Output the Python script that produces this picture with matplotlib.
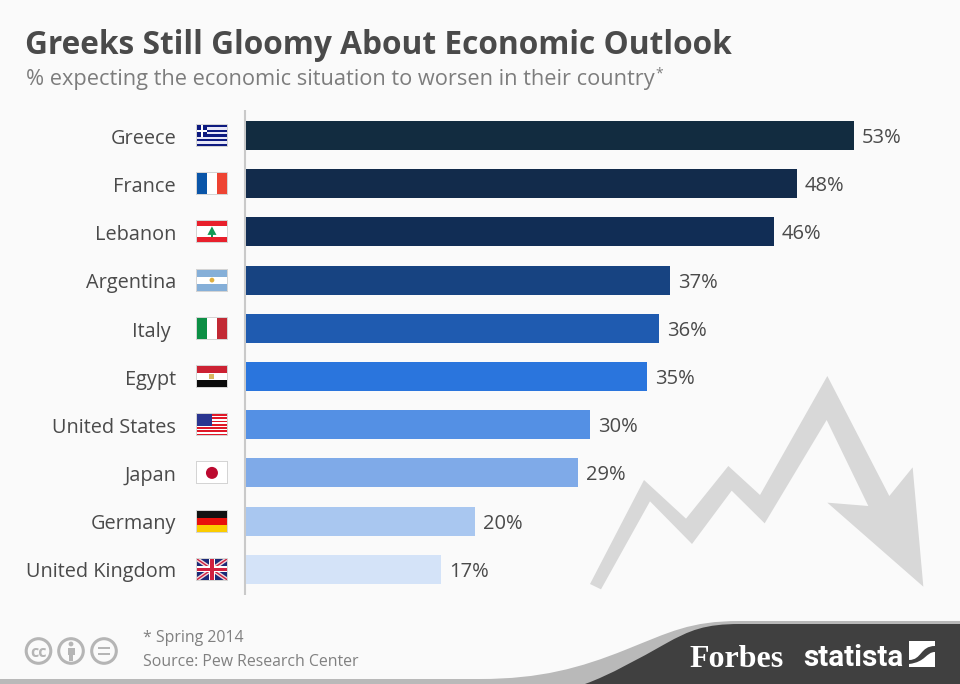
import matplotlib
matplotlib.use("Agg")
import matplotlib.pyplot as plt
from matplotlib.patches import Rectangle, Polygon, Circle, PathPatch
from matplotlib.path import Path

countries = ["Greece", "France", "Lebanon", "Argentina", "Italy", "Egypt",
             "United States", "Japan", "Germany", "United Kingdom"]
values = [53, 48, 46, 37, 36, 35, 30, 29, 20, 17]
bar_colors = ["#122c40", "#122b4b", "#112d55", "#174381", "#1f5bb0",
              "#2a75dd", "#5490e4", "#7faae8", "#a9c7f0", "#d4e3f8"]
title = "Greeks Still Gloomy About Economic Outlook"
subtitle = "% expecting the economic situation to worsen in their country"
footnote = "* Spring 2014"
source = "Source: Pew Research Center"

W, H = 960, 684
BG = "#fafafa"
FONT = "Open Sans"
fig = plt.figure(figsize=(W / 100, H / 100), dpi=100, facecolor=BG)

# overlay in pixel coordinates
ov = fig.add_axes([0, 0, 1, 1], zorder=1)
ov.set_xlim(0, W); ov.set_ylim(H, 0); ov.axis("off")

# bars
top_px, bot_px = 111.4, 593.4
ax = fig.add_axes([245.5 / W, 1 - bot_px / H, (W - 245.5) / W, (bot_px - top_px) / H], zorder=2)
ax.patch.set_alpha(0)
ax.set_xlim(0, (W - 245.5) / (608.5 / 53))
ax.set_ylim(9.5, -0.5)
ax.axis("off")
ypos = list(range(len(countries)))
ax.barh(ypos, values, height=0.6, color=bar_colors, linewidth=0)
for y, v in zip(ypos, values):
    ax.annotate(f"{v}%", (v, y), xytext=(8, 0), textcoords="offset pixels", va="center_baseline",
                ha="left", fontsize=14.5, color="#4a4a4a", family=FONT)

for i, c in enumerate(countries):
    cy = 136.2 + i * 48.2
    ov.text(176 if c != "Italy" else 171, cy, c, ha="right", va="center_baseline", fontsize=14.3,
            color="#4a4a4a", family=FONT)

ov.plot([245, 245], [110, 595], color="#c9c9c9", lw=1.5, solid_capstyle="butt")

# titles
ov.text(25, 41.5, title, fontsize=22.8, fontweight="bold", color="#4a4a4a", family=FONT,
        va="center_baseline", ha="left")
ov.text(26, 76.5, subtitle, fontsize=15.7, color="#7d7d7d", family=FONT, va="center_baseline", ha="left")
ov.text(655, 72, "*", fontsize=10, color="#7d7d7d", family=FONT, va="center_baseline", ha="left")
ov.text(143, 635.5, footnote, fontsize=11.45, color="#808080", family=FONT, va="center_baseline")
ov.text(143, 660.5, source, fontsize=11.45, color="#808080", family=FONT, va="center_baseline")

# background arrow
zx = [60, 222, 348, 475, 570, 772, 958, 1028, 1060, 772, 895, 770, 584, 485, 366, 240, 93]
zy = [672, 360, 476, 318, 405, 48, 408, 322, 680, 428, 438, 180, 490, 392, 552, 424, 688]
ov.add_patch(Polygon([(570 + a / 3, 360 + b / 3) for a, b in zip(zx, zy)], closed=True,
                     fc="#d8d8d8", ec="none", zorder=0.5))

# footer band
M, C, L, Z = Path.MOVETO, Path.CURVE4, Path.LINETO, Path.CLOSEPOLY
light = Path([(0, 679), (480, 679), (540, 679), (580, 668), (625, 650), (670, 632), (690, 621),
              (740, 621), (960, 621), (960, 684), (0, 684), (0, 684)],
             [M, L, C, C, C, C, C, C, L, L, L, Z])
ov.add_patch(PathPatch(light, fc="#b9b9b9", ec="none", zorder=1))
dark = Path([(585, 684), (610, 675), (640, 658), (665, 644), (690, 630), (705, 624), (740, 624),
             (960, 624), (960, 684), (585, 684)],
            [M, C, C, C, C, C, C, L, L, Z])
ov.add_patch(PathPatch(dark, fc="#404040", ec="none", zorder=1.1))
ov.text(689, 656, "Forbes", fontsize=23, fontweight="bold", family="Liberation Serif", color="white",
        va="center_baseline", ha="left", zorder=3)
ov.text(803, 655, "statista", fontsize=21.3, fontweight="bold", family="Roboto", color="white",
        va="center_baseline", ha="left", zorder=3)
ov.add_patch(Rectangle((909, 641), 26, 26, fc="white", ec="none", zorder=3))
ov.add_patch(PathPatch(Path([(909, 660), (922, 660), (920, 646), (935, 646), (935, 652), (926, 652), (926, 662), (909, 664), (909, 660)],
                            [M, C, C, C, L, C, C, C, Z]), fc="#404040", ec="none", zorder=3.1))

# licence icons
for cx in (38.5, 71, 104):
    ov.add_patch(Circle((cx, 651), 12.3, fc="none", ec="#b5b5b5", lw=2.2))
ov.text(38.5, 651, "cc", fontsize=11.5, fontweight="bold", color="#b5b5b5", ha="center", va="center_baseline", family=FONT)
ov.add_patch(Circle((71, 644), 2.4, fc="#b5b5b5", ec="none"))
ov.add_patch(Rectangle((67.5, 647.5), 7, 7, fc="#b5b5b5", ec="none"))
ov.add_patch(Rectangle((69, 654), 4, 7, fc="#b5b5b5", ec="none"))
ov.add_patch(Rectangle((98, 647), 12, 2.4, fc="#b5b5b5", ec="none"))
ov.add_patch(Rectangle((98, 653), 12, 2.4, fc="#b5b5b5", ec="none"))


# flags
def R(x, y, w, h, c, z=4):
    ov.add_patch(Rectangle((x, y), w, h, fc=c, ec="none", zorder=z))


FW, FH = 30.5, 21
for i, c in enumerate(countries):
    x0 = 196.7
    y0 = 125 + i * 48.2
    R(x0 - 1, y0 - 1, FW + 2, FH + 2, "#d4d4d4", 3.5)
    if c == "Greece":
        navy = "#0d1a80"
        R(x0, y0, FW, FH, "#e8e8f8")
        for k in range(0, 9, 2):
            R(x0, y0 + k * FH / 9, FW, FH / 9, navy)
        R(x0, y0, 10.5, 5 * FH / 9, navy, 4.1)
        R(x0 + 4.2, y0, 2.2, 5 * FH / 9, "white", 4.2)
        R(x0, y0 + 4.7, 10.5, 2.2, "white", 4.2)
    elif c == "France":
        R(x0, y0, FW, FH, "white")
        R(x0, y0, FW / 3, FH, "#0a55a8")
        R(x0 + 2 * FW / 3, y0, FW / 3, FH, "#ee4433")
    elif c == "Lebanon":
        R(x0, y0, FW, FH, "white")
        R(x0, y0, FW, 5, "#e8202c")
        R(x0, y0 + FH - 5, FW, 5, "#e8202c")
        ov.add_patch(Polygon([(x0 + FW / 2, y0 + 5), (x0 + FW / 2 + 4.5, y0 + 13.5), (x0 + FW / 2 - 4.5, y0 + 13.5)],
                             fc="#119a55", ec="none", zorder=4.1))
        R(x0 + FW / 2 - 0.8, y0 + 13, 1.6, 2.5, "#119a55", 4.1)
    elif c == "Argentina":
        R(x0, y0, FW, FH, "white")
        R(x0, y0, FW, 7, "#85afd8")
        R(x0, y0 + 14, FW, 7, "#85afd8")
        ov.add_patch(Circle((x0 + FW / 2, y0 + FH / 2), 2.4, fc="#e0b040", ec="none", zorder=4.1))
    elif c == "Italy":
        R(x0, y0, FW, FH, "white")
        R(x0, y0, FW / 3, FH, "#0c8f45")
        R(x0 + 2 * FW / 3, y0, FW / 3, FH, "#c22a35")
    elif c == "Egypt":
        R(x0, y0, FW, FH, "white")
        R(x0, y0, FW, 7, "#cc2233")
        R(x0, y0 + 14, FW, 7, "#0a0a0a")
        R(x0 + FW / 2 - 2.5, y0 + 8, 5, 5, "#d8b860", 4.1)
    elif c == "United States":
        R(x0, y0, FW, FH, "white")
        for k in range(0, 13, 2):
            R(x0, y0 + k * FH / 13, FW, FH / 13, "#e01828")
        R(x0, y0, 15, 11.3, "#2a3590", 4.1)
    elif c == "Japan":
        R(x0, y0, FW, FH, "white")
        ov.add_patch(Circle((x0 + FW / 2, y0 + FH / 2), 6, fc="#bc0a30", ec="none", zorder=4.1))
    elif c == "Germany":
        R(x0, y0, FW, 7, "#111111")
        R(x0, y0 + 7, FW, 7, "#e8100c")
        R(x0, y0 + 14, FW, 7, "#fbcc00")
    elif c == "United Kingdom":
        R(x0, y0, FW, FH, "#1c2a78")
        clip = Rectangle((x0, y0), FW, FH, transform=ov.transData)
        for (a, b) in (((x0, y0), (x0 + FW, y0 + FH)), ((x0, y0 + FH), (x0 + FW, y0))):
            l1, = ov.plot([a[0], b[0]], [a[1], b[1]], color="#f0d8dc", lw=3, zorder=4.1, solid_capstyle="butt")
            l2, = ov.plot([a[0], b[0]], [a[1], b[1]], color="#d02040", lw=1, zorder=4.2, solid_capstyle="butt")
            l1.set_clip_path(clip); l2.set_clip_path(clip)
        R(x0 + FW / 2 - 3, y0, 6, FH, "white", 4.3)
        R(x0, y0 + FH / 2 - 3, FW, 6, "white", 4.3)
        R(x0 + FW / 2 - 1.6, y0, 3.2, FH, "#d02040", 4.4)
        R(x0, y0 + FH / 2 - 1.6, FW, 3.2, "#d02040", 4.4)

ov.set_xlim(0, W); ov.set_ylim(H, 0)
fig.savefig("out.png", dpi=100, facecolor=BG)
